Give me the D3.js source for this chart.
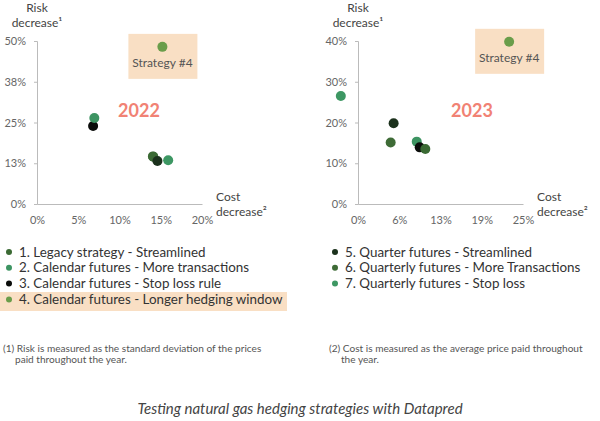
<!DOCTYPE html>
<html>
<head>
<meta charset="utf-8">
<script src="https://cdn.jsdelivr.net/npm/d3@7"></script>
<style>
  body { margin: 0; background: #fff; }
  svg { font-family: Lato, "Open Sans", sans-serif; }
</style>
</head>
<body>
<svg id="chart" width="600" height="421"></svg>
<script>
// strategies shown in both years
var strategies = [
  "1. Legacy strategy - Streamlined",
  "2. Calendar futures - More transactions",
  "3. Calendar futures - Stop loss rule",
  "4. Calendar futures - Longer hedging window",
  "5. Quarter futures - Streamlined",
  "6. Quarterly futures - More Transactions",
  "7. Quarterly futures - Stop loss"
];
var colors = ["#3b6a34", "#3d9462", "#0b0d0b", "#6a9d4a", "#1b311c", "#3e6b36", "#3d9763"];

// cost decrease (x) and risk decrease (y), per strategy
var cost2022 = [0.141, 0.0695, 0.068, 0.152, 0.146, 0.1405, 0.159];
var risk2022 = [0.145, 0.264, 0.239, 0.482, 0.132, 0.146, 0.134];
var cost2023 = [0.102, 0.089, 0.0935, 0.229, 0.054, 0.0495, -0.026];
var risk2023 = [0.135, 0.153, 0.139, 0.398, 0.198, 0.151, 0.265];

var xTicks2022 = [0, 0.05, 0.10, 0.15, 0.20];
var yTicks2022 = [0, 0.125, 0.25, 0.375, 0.5];
var xTicks2023 = [0, 0.0625, 0.125, 0.1875, 0.25];
var yTicks2023 = [0, 0.1, 0.2, 0.3, 0.4];

var order2022 = [2, 1, 5, 0, 4, 6, 3];
var order2023 = [6, 4, 5, 1, 2, 0, 3];

var svg = d3.select("#chart");
var pct = d3.format(".0%");

function drawPanel(opt) {
  var x = d3.scaleLinear().domain([0, opt.xTicks[opt.xTicks.length - 1]]).range([opt.left, opt.left + 165]);
  var y = d3.scaleLinear().domain([0, opt.yTicks[opt.yTicks.length - 1]]).range([204, 41]);

  var g = svg.append("g");

  // highlight box behind strategy #4
  var p4x = x(opt.cost[3]), p4y = y(opt.risk[3]);
  g.append("rect")
    .attr("x", p4x - 34).attr("y", p4y - 13)
    .attr("width", 69).attr("height", 45)
    .attr("fill", "#f9dfc4");
  g.append("text")
    .attr("x", p4x).attr("y", p4y + 20)
    .attr("text-anchor", "middle")
    .attr("font-size", 12).attr("fill", "#555")
    .text("Strategy #4");

  var yAxis = g.append("g")
    .attr("transform", "translate(" + opt.left + ",0)")
    .call(d3.axisLeft(y).tickValues(opt.yTicks).tickFormat(pct).tickSize(3).tickPadding(8));
  var xAxis = g.append("g")
    .attr("transform", "translate(0,204)")
    .call(d3.axisBottom(x).tickValues(opt.xTicks).tickFormat(pct).tickSize(0).tickPadding(12));
  [xAxis, yAxis].forEach(function (a) {
    a.select(".domain").attr("stroke", "#bbb");
    a.selectAll(".tick line").attr("stroke", "#bbb");
    a.selectAll(".tick text").attr("fill", "#666").attr("font-size", 11).attr("font-family", "Lato, sans-serif");
  });

  // axis titles
  var ty = g.append("text").attr("text-anchor", "middle").attr("font-size", 12).attr("fill", "#444");
  ty.append("tspan").attr("x", opt.left).attr("y", 12).text("Risk");
  ty.append("tspan").attr("x", opt.left).attr("y", 27).text("decrease¹");
  var tx = g.append("text").attr("text-anchor", "start").attr("font-size", 12).attr("fill", "#444");
  tx.append("tspan").attr("x", opt.left + 179).attr("y", 201).text("Cost");
  tx.append("tspan").attr("x", opt.left + 179).attr("y", 216).text("decrease²");

  g.append("text")
    .attr("x", opt.yearX).attr("y", 117)
    .attr("text-anchor", "middle")
    .attr("font-size", 18).attr("font-weight", "bold")
    .attr("fill", "#f18274")
    .text(opt.year);

  g.selectAll("circle.pt")
    .data(opt.order)
    .enter().append("circle")
    .attr("class", "pt")
    .attr("cx", function (i) { return x(opt.cost[i]); })
    .attr("cy", function (i) { return y(opt.risk[i]); })
    .attr("r", 5)
    .attr("fill", function (i) { return colors[i]; });
}

drawPanel({left: 37, year: "2022", yearX: 139, cost: cost2022, risk: risk2022,
  xTicks: xTicks2022, yTicks: yTicks2022, order: order2022});
drawPanel({left: 358, year: "2023", yearX: 472, cost: cost2023, risk: risk2023,
  xTicks: xTicks2023, yTicks: yTicks2023, order: order2023});

// legend
var legend = svg.append("g");
legend.append("rect").attr("x", 0).attr("y", 292).attr("width", 287).attr("height", 19).attr("fill", "#f9dfc4");
strategies.forEach(function (s, i) {
  var col = i < 4 ? 0 : 1;
  var row = i < 4 ? i : i - 4;
  var lx = col === 0 ? 9 : 335;
  var ly = 252 + row * 15.8;
  legend.append("circle").attr("cx", lx).attr("cy", ly).attr("r", 3).attr("fill", colors[i]);
  legend.append("text").attr("x", lx + 10).attr("y", ly + 4.5)
    .attr("font-size", 13.4).attr("fill", "#333").text(s);
});

// footnotes
var notes = [
  {x: 3, lines: ["(1) Risk is measured as the standard deviation of the prices", "paid throughout the year."]},
  {x: 329, lines: ["(2) Cost is measured as the average price paid throughout", "the year."]}
];
notes.forEach(function (n) {
  var t = svg.append("text").attr("font-size", 10.1).attr("fill", "#555");
  t.append("tspan").attr("x", n.x).attr("y", 352).text(n.lines[0]);
  t.append("tspan").attr("x", n.x + 12).attr("y", 363).text(n.lines[1]);
});

svg.append("text")
  .attr("x", 300).attr("y", 414)
  .attr("text-anchor", "middle")
  .attr("font-size", 15).attr("font-style", "italic").attr("fill", "#444")
  .text("Testing natural gas hedging strategies with Datapred");
</script>
</body>
</html>
